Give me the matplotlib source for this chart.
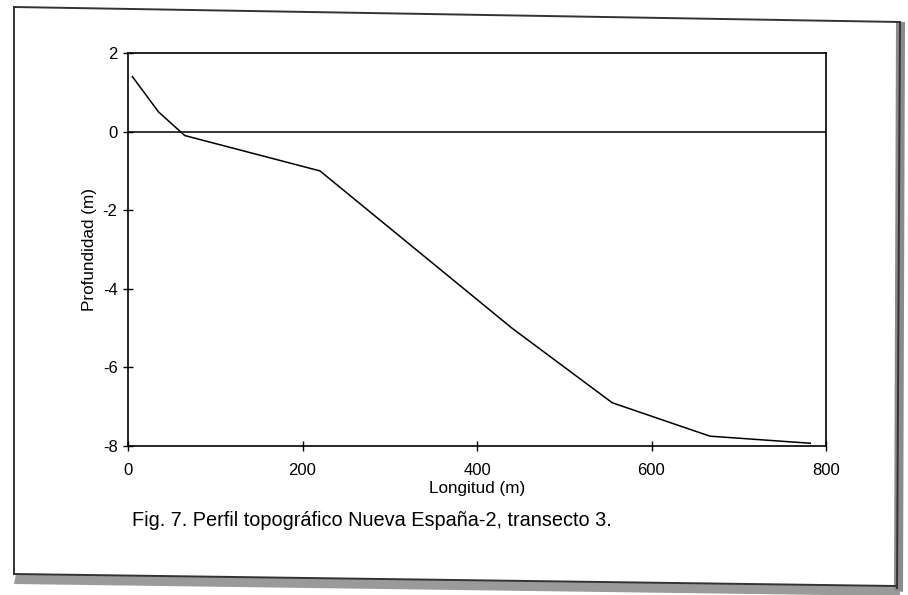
import matplotlib.pyplot as plt
from matplotlib.patches import Polygon
from matplotlib.lines import Line2D

plt.rcParams['font.family'] = ['Liberation Sans', 'DejaVu Sans']
plt.rcParams['axes.unicode_minus'] = False

longitud = [5, 35, 65, 220, 440, 555, 667, 782]
profundidad = [1.4, 0.5, -0.1, -1.0, -5.0, -6.9, -7.75, -7.93]
x_ticks = [0, 200, 400, 600, 800]
y_ticks = [-8, -6, -4, -2, 0, 2]

fig = plt.figure(figsize=(9.08, 5.95), dpi=100)
fig.patch.set_facecolor('white')

# page frame from the scan
W, H = 908.0, 595.0
def fx(p):
    return [(x / W, 1 - y / H) for x, y in p]

fig.add_artist(Polygon(fx([(16, 574), (900, 586), (900, 596), (14, 584)]),
                       closed=True, facecolor='#9a9a9a', edgecolor='none',
                       transform=fig.transFigure))
fig.add_artist(Polygon(fx([(896, 22), (905, 22), (903, 592), (894, 590)]),
                       closed=True, facecolor='#8a8a8a', edgecolor='none',
                       transform=fig.transFigure))
for p in [[(14, 7), (900, 22)], [(14, 7), (14, 574)],
          [(14, 574), (896, 586)], [(900, 22), (897, 588)]]:
    pts = fx(p)
    fig.add_artist(Line2D([pts[0][0], pts[1][0]], [pts[0][1], pts[1][1]],
                          color='#333333', lw=1.4, transform=fig.transFigure))

ax = fig.add_axes([128 / W, 1 - 446 / H, (826 - 128) / W, (446 - 53) / H])
ax.plot(longitud, profundidad, color='black', lw=1.1)
ax.axhline(0, color='black', lw=1.1)

ax.set_xlim(0, 800)
ax.set_ylim(-8, 2)
ax.set_xticks(x_ticks)
ax.set_yticks(y_ticks)
ax.tick_params(direction='inout', length=7, width=1, labelsize=12, pad=4)
ax.tick_params(axis='x', pad=9)
for s in ax.spines.values():
    s.set_linewidth(1.2)

ax.set_xlabel('Longitud (m)', fontsize=12.3, labelpad=2)
ax.set_ylabel('Profundidad (m)', fontsize=12.3, labelpad=4)

fig.text(132 / W, 1 - 521 / H, 'Fig. 7. Perfil topográfico Nueva España-2, transecto 3.',
         fontsize=14.3, va='center', ha='left')

fig.savefig('out.png', dpi=100)
